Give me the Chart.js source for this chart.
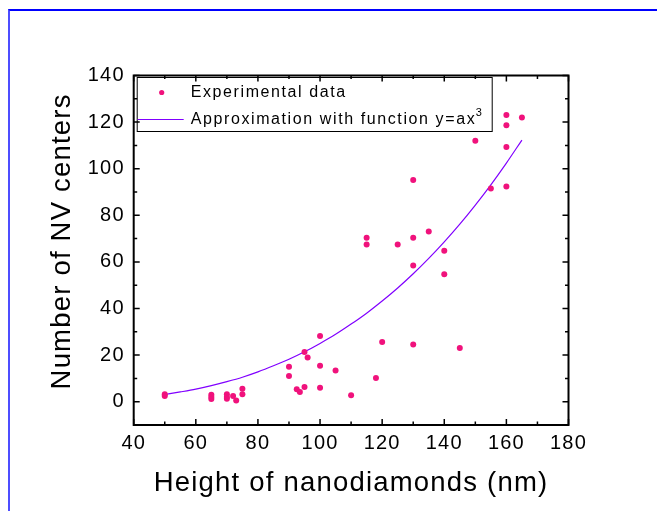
<!DOCTYPE html>
<html>
<head>
<meta charset="utf-8">
<title>NV centers vs height</title>
<script src="https://cdn.jsdelivr.net/npm/chart.js@4.4.0/dist/chart.umd.min.js"></script>
<style>
    html, body { margin: 0; padding: 0; background: #fff; }
    #wrap  { position: relative; width: 657px; height: 511px; overflow: hidden; }
    #frame { position: absolute; left: 8px; top: 9px; right: -2px; bottom: -2px;
             border-top: 2px solid #0000ff; border-left: 2px solid #4d4dff; }
    canvas { position: absolute; left: 0; top: 0; }
</style>
</head>
<body>
<div id="wrap">
    <div id="frame"></div>
    <canvas id="nvChart" width="657" height="511"></canvas>
</div>
<script>
const FONT = "'Liberation Sans', Arial, sans-serif";
const DOT_COLOR  = '#f0127c';
const LINE_COLOR = '#8000ff';

// measured points (height in nm, number of NV centers)
const heightNm = [
    50, 50, 65, 65, 65, 70, 70, 70, 72, 73, 75, 75,
    90, 90, 92.5, 93.5, 95, 95, 96, 100, 100, 100, 105, 110,
    118, 120, 130, 145, 115, 115, 125, 130, 130, 135, 140, 140,
    130, 155, 160, 150, 160, 160, 165, 160
];
const nvCount = [
    2.5, 3.2, 3, 2, 1.2, 3.2, 2, 1.3, 2.5, 0.5, 5.6, 3.2,
    15, 11, 5.3, 4.2, 6.3, 21.3, 19, 28.2, 15.4, 6, 13.4, 2.8,
    10.2, 25.6, 24.6, 23.1, 70.4, 67.5, 67.5, 70.4, 58.5, 73.1, 64.8, 54.7,
    95.1, 91.5, 92.4, 112, 109.3, 118.6, 122, 123
];

// fitted curve y = a*x^3
const fitHeight = [50, 55, 60, 65, 70, 75, 80, 85, 90, 95, 100, 105,
                   110, 115, 120, 125, 130, 135, 140, 145, 150, 155, 160, 165];
const fitCount  = [3.1, 4.2, 5.4, 6.9, 8.6, 10.5, 12.8, 15.4, 18.2, 21.4, 25.0, 28.9,
                   33.3, 38.0, 43.2, 48.8, 54.9, 61.5, 68.6, 76.2, 84.4, 93.1, 102.4, 112.3];

const xTicks      = [40, 60, 80, 100, 120, 140, 160, 180];
const xMinorTicks = [50, 70, 90, 110, 130, 150, 170];
const yTicks      = [0, 20, 40, 60, 80, 100, 120, 140];
const yMinorTicks = [10, 30, 50, 70, 90, 110, 130];
const X_MIN = 40, X_MAX = 180, Y_MIN = -10, Y_MAX = 140;

const LEGEND_DOTS = 'Experimental data';
const LEGEND_LINE = 'Approximation with function y=ax';
const LEGEND_SUP  = '3';


const spacingPlugin = {
    id: 'spacing',
    beforeDraw: chart => { chart.ctx.letterSpacing = '1.2px'; }
};

// box round the plot with ticks pointing inwards on all four sides
const boxPlugin = {
    id: 'box',
    afterDatasetsDraw: chart => {
        const {ctx, chartArea: a, scales: {x, y}} = chart;
        ctx.save();
        ctx.strokeStyle = '#000';
        ctx.lineWidth = 1.5;
        const tickX = (v, len) => {
            const px = x.getPixelForValue(v);
            ctx.moveTo(px, a.bottom); ctx.lineTo(px, a.bottom - len);
            ctx.moveTo(px, a.top);    ctx.lineTo(px, a.top + len);
        };
        const tickY = (v, len) => {
            const py = y.getPixelForValue(v);
            ctx.moveTo(a.left, py);  ctx.lineTo(a.left + len, py);
            ctx.moveTo(a.right, py); ctx.lineTo(a.right - len, py);
        };
        ctx.beginPath();
        xTicks.forEach(v => tickX(v, 6));
        xMinorTicks.forEach(v => tickX(v, 3.5));
        yTicks.forEach(v => tickY(v, 6));
        yMinorTicks.forEach(v => tickY(v, 3.5));
        ctx.stroke();

        ctx.lineWidth = 2;
        ctx.strokeRect(a.left, a.top, a.right - a.left, a.bottom - a.top);
        ctx.restore();
    }
};

const legendPlugin = {
    id: 'boxLegend',
    afterDraw: chart => {
        const {ctx, chartArea: a} = chart;
        const left = a.left + 3, top = a.top + 1.5;
        ctx.save();
        ctx.letterSpacing = '1.6px';
        ctx.strokeStyle = '#000';
        ctx.lineWidth = 1;
        ctx.strokeRect(left + 0.5, top + 0.5, 355, 54);

        ctx.fillStyle = DOT_COLOR;
        ctx.beginPath();
        ctx.arc(left + 25, top + 15.5, 2.6, 0, Math.PI * 2);
        ctx.fill();

        ctx.strokeStyle = LINE_COLOR;
        ctx.beginPath();
        ctx.moveTo(left + 1, top + 42.5);
        ctx.lineTo(left + 47, top + 42.5);
        ctx.stroke();

        ctx.fillStyle = '#000';
        ctx.textBaseline = 'middle';
        ctx.font = `16px ${FONT}`;
        ctx.fillText(LEGEND_DOTS, left + 54, top + 15.5);
        ctx.fillText(LEGEND_LINE, left + 54, top + 43);
        const w = ctx.measureText(LEGEND_LINE).width;
        ctx.font = `11px ${FONT}`;
        ctx.fillText(LEGEND_SUP, left + 54 + w - 0.5, top + 36);
        ctx.restore();
    }
};


const ctx = document.getElementById('nvChart').getContext('2d');

const CHART = new Chart(ctx, {
    type: 'scatter',
    data: {
        datasets: [
            {
                label: LEGEND_DOTS,
                data: heightNm.map((h, i) => ({x: h, y: nvCount[i]})),
                backgroundColor: DOT_COLOR,
                borderWidth: 0,
                pointRadius: 3,
                order: 1
            },
            {
                type: 'line',
                label: LEGEND_LINE + LEGEND_SUP,
                data: fitHeight.map((h, i) => ({x: h, y: fitCount[i]})),
                borderColor: LINE_COLOR,
                borderWidth: 1.2,
                pointRadius: 0,
                fill: false,
                cubicInterpolationMode: 'monotone',
                order: 2
            }
        ]
    },
    options: {
        responsive: false,
        animation: false,
        layout: { padding: { top: 75.5, right: 88.5, bottom: 0, left: 0 } },
        plugins: { legend: { display: false }, tooltip: { enabled: false } },
        scales: {
            x: {
                type: 'linear',
                min: X_MIN,
                max: X_MAX,
                afterFit: s => { s.height = 86; },
                afterBuildTicks: s => { s.ticks = xTicks.map(v => ({value: v})); },
                grid: { display: false, drawTicks: false },
                border: { display: false },
                ticks: { padding: 6, autoSkip: false, maxRotation: 0, color: '#000',
                         font: { family: FONT, size: 20 } },
                title: { display: true, text: 'Height of nanodiamonds (nm)', color: '#000',
                         font: { family: FONT, size: 27.5 }, padding: { top: 0, bottom: 10.7 } }
            },
            y: {
                type: 'linear',
                min: Y_MIN,
                max: Y_MAX,
                afterFit: s => { s.width = 133.7; },
                afterBuildTicks: s => { s.ticks = yTicks.map(v => ({value: v})); },
                grid: { display: false, drawTicks: false },
                border: { display: false },
                ticks: { padding: 9, autoSkip: false, color: '#000',
                         font: { family: FONT, size: 20 } },
                title: { display: true, text: '  Number of NV centers', color: '#000',
                         font: { family: FONT, size: 27.5 }, padding: { top: 45.5, bottom: 0 } }
            }
        }
    },
    plugins: [spacingPlugin, boxPlugin, legendPlugin]
});
</script>
</body>
</html>
